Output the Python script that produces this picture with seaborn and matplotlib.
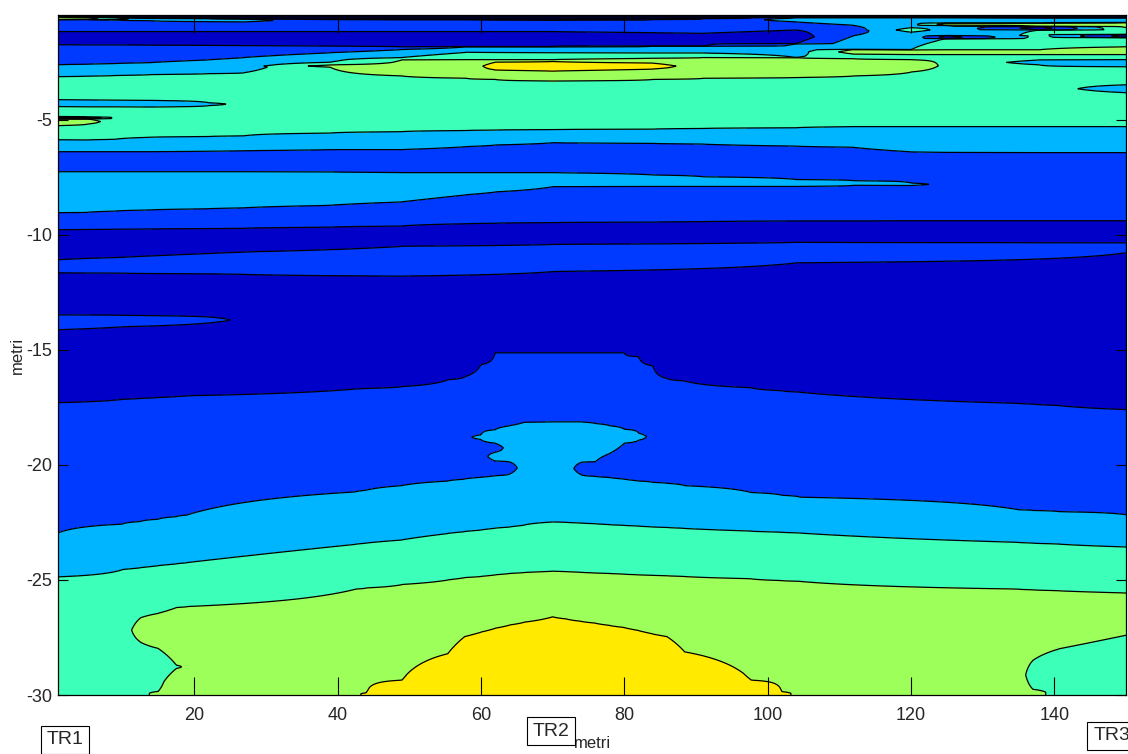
"""Filled contour section between the traverses TR1, TR2 and TR3."""

import matplotlib.pyplot as plt
import matplotlib.transforms as mtransforms
import numpy as np
import seaborn as sns

# Level codes: 0 black top, 1 navy, 2 blue, 3 light blue, 4 aquamarine,
# 5 yellow-green, 6 yellow.  Every column lists (level, bottom depth in m)
# from the top of its section downwards.

# shallow section, -0.45 m to -10 m
shallow_top = -0.45
shallow_x = [1, 5, 9, 14, 22, 27, 39, 49, 58, 62, 70, 84, 91, 104, 112,
             120, 125, 138, 150]
shallow_bands = [
    [(0, -0.53), (5, -0.65), (2, -1.17), (1, -1.74), (2, -2.61), (3, -3.13),
     (4, -4.13), (3, -4.43), (4, -4.87), (1, -4.96), (5, -5.26), (4, -5.87),
     (3, -6.39), (2, -7.26), (3, -9.04), (2, -9.78), (1, -10)],
    [(0, -0.53), (5, -0.64), (2, -1.17), (1, -1.75), (2, -2.59), (3, -3.11),
     (4, -4.14), (3, -4.44), (4, -4.89), (1, -4.96), (5, -5.2), (4, -5.88),
     (3, -6.39), (2, -7.26), (3, -9.03), (2, -9.77), (1, -10)],
    [(0, -0.56), (4, -0.66), (2, -1.17), (1, -1.75), (2, -2.56), (3, -3.08),
     (4, -4.15), (3, -4.44), (4, -5.85), (3, -6.39), (2, -7.26), (3, -8.97),
     (2, -9.76), (1, -10)],
    [(0, -0.59), (3, -0.7), (2, -1.17), (1, -1.76), (2, -2.52), (3, -3.04),
     (4, -4.16), (3, -4.45), (4, -5.76), (3, -6.39), (2, -7.26), (3, -8.92),
     (2, -9.75), (1, -10)],
    [(0, -0.6), (3, -0.74), (2, -1.17), (1, -1.77), (2, -2.4), (3, -3.0),
     (4, -4.26), (3, -4.39), (4, -5.73), (3, -6.37), (2, -7.26), (3, -8.87),
     (2, -9.73), (1, -10)],
    [(0, -0.62), (3, -0.75), (2, -1.17), (1, -1.78), (2, -2.3), (3, -2.96),
     (4, -5.7), (3, -6.35), (2, -7.26), (3, -8.83), (2, -9.72), (1, -10)],
    [(0, -0.64), (2, -1.17), (1, -1.8), (2, -2.09), (3, -2.5), (4, -2.62),
     (5, -2.72), (4, -5.58), (3, -6.3), (2, -7.27), (3, -8.72), (2, -9.67),
     (1, -10)],
    [(0, -0.65), (2, -1.17), (1, -1.83), (2, -1.95), (3, -2.3), (4, -2.4),
     (5, -3.1), (4, -5.52), (3, -6.3), (2, -7.3), (3, -8.57), (2, -9.62),
     (1, -10)],
    [(0, -0.65), (2, -1.17), (1, -1.83), (3, -2.07), (4, -2.39), (5, -3.2),
     (4, -5.47), (3, -6.17), (2, -7.3), (3, -8.26), (2, -9.52), (1, -10)],
    [(0, -0.66), (2, -1.17), (1, -1.83), (3, -2.08), (4, -2.39), (5, -2.5),
     (6, -2.84), (5, -3.25), (4, -5.45), (3, -6.1), (2, -7.3), (3, -8.14),
     (2, -9.5), (1, -10)],
    [(0, -0.67), (2, -1.17), (1, -1.83), (3, -2.09), (4, -2.39), (5, -2.47),
     (6, -2.89), (5, -3.32), (4, -5.43), (3, -6.0), (2, -7.3), (3, -7.91),
     (2, -9.47), (1, -10)],
    [(0, -0.64), (2, -1.22), (1, -1.8), (3, -2.1), (4, -2.33), (5, -2.54),
     (6, -2.8), (5, -3.25), (4, -5.41), (3, -6.03), (2, -7.4), (3, -7.9),
     (2, -9.45), (1, -10)],
    [(0, -0.6), (2, -1.25), (1, -1.8), (3, -2.1), (4, -2.3), (5, -3.2),
     (4, -5.38), (3, -6.06), (2, -7.48), (3, -7.9), (2, -9.43), (1, -10)],
    [(0, -0.56), (3, -0.75), (2, -1.1), (1, -1.7), (3, -2.3), (5, -3.17),
     (4, -5.35), (3, -6.15), (2, -7.6), (3, -7.9), (2, -9.4), (1, -10)],
    [(0, -0.56), (3, -0.9), (2, -1.35), (3, -1.95), (5, -2.15), (4, -2.35),
     (5, -3.1), (4, -5.3), (3, -6.2), (2, -7.65), (3, -7.85), (2, -9.4),
     (1, -10)],
    [(0, -0.56), (3, -1.0), (4, -1.2), (3, -1.96), (5, -2.17), (4, -2.39),
     (5, -2.93), (4, -5.3), (3, -6.4), (2, -7.75), (3, -7.86), (2, -9.39),
     (1, -10)],
    [(0, -0.56), (3, -0.8), (5, -0.9), (3, -1.35), (1, -1.48), (4, -1.96),
     (5, -2.17), (4, -5.3), (3, -6.42), (2, -9.39), (1, -10)],
    [(0, -0.57), (3, -0.8), (5, -0.95), (1, -1.1), (4, -1.96), (5, -2.17),
     (4, -2.4), (3, -2.62), (4, -5.3), (3, -6.43), (2, -9.39), (1, -10)],
    [(0, -0.57), (3, -0.78), (5, -1.0), (4, -1.3), (1, -1.43), (4, -1.83),
     (5, -2.17), (4, -2.39), (3, -2.7), (4, -3.48), (3, -3.83), (4, -5.3),
     (3, -6.43), (2, -9.39), (1, -10)],
]

# middle section, -10 m to -14.9 m
mid_top = -10.0
mid_x = [1, 10, 23, 27, 49, 70, 104, 150]
mid_bands = [
    [(1, -11.09), (2, -11.65), (1, -13.48), (2, -14.13), (1, -14.9)],
    [(1, -10.98), (2, -11.67), (1, -13.5), (2, -14.0), (1, -14.9)],
    [(1, -10.8), (2, -11.7), (1, -13.6), (2, -13.8), (1, -14.9)],
    [(1, -10.75), (2, -11.72), (1, -14.9)],
    [(1, -10.5), (2, -11.8), (1, -14.9)],
    [(1, -10.42), (2, -11.6), (1, -14.9)],
    [(1, -10.33), (2, -11.22), (1, -14.9)],
    [(1, -10.35), (2, -10.78), (1, -14.9)],
]

# deep section, -14.9 m to -30 m
deep_top = -14.9
deep_x = [1, 10, 12.5, 15, 17.5, 19, 42.5, 44, 49, 55.4, 57.7, 60, 62, 64,
          66, 70, 72, 74, 76, 78, 80, 82, 84, 86, 88.4, 97.7, 102, 104.5,
          135, 137, 140.6, 150]
deep_bands = [
    [(1, -17.3), (2, -22.96), (3, -24.87), (4, -30)],
    [(1, -17.15), (2, -22.57), (3, -24.55), (4, -30)],
    [(1, -17.11), (2, -22.46), (3, -24.47), (4, -26.65), (5, -27.7),
     (4, -30)],
    [(1, -17.07), (2, -22.36), (3, -24.38), (4, -26.45), (5, -27.98),
     (4, -29.84), (5, -30)],
    [(1, -17.03), (2, -22.25), (3, -24.3), (4, -26.2), (5, -28.7),
     (4, -28.85), (5, -30)],
    [(1, -17.0), (2, -22.18), (3, -24.25), (4, -26.16), (5, -30)],
    [(1, -16.7), (2, -21.17), (3, -23.45), (4, -25.4), (5, -30)],
    [(1, -16.68), (2, -21.1), (3, -23.4), (4, -25.35), (5, -29.9), (6, -30)],
    [(1, -16.6), (2, -20.9), (3, -23.26), (4, -25.2), (5, -29.35), (6, -30)],
    [(1, -16.3), (2, -20.7), (3, -22.98), (4, -25.0), (5, -28.2), (6, -30)],
    [(1, -16.18), (2, -20.62), (3, -22.9), (4, -24.9), (5, -27.47),
     (6, -30)],
    [(1, -15.65), (2, -18.69), (3, -18.9), (2, -20.54), (3, -22.83),
     (4, -24.85), (5, -27.27), (6, -30)],
    [(1, -15.13), (2, -18.47), (3, -19.06), (2, -19.45), (3, -19.83),
     (2, -20.47), (3, -22.75), (4, -24.78), (5, -27.1), (6, -30)],
    [(1, -15.13), (2, -18.3), (3, -19.87), (2, -20.4), (3, -22.7),
     (4, -24.72), (5, -26.96), (6, -30)],
    [(1, -15.13), (2, -18.15), (3, -22.62), (4, -24.68), (5, -26.84),
     (6, -30)],
    [(1, -15.13), (2, -18.13), (3, -22.48), (4, -24.62), (5, -26.6),
     (6, -30)],
    [(1, -15.13), (2, -18.13), (3, -22.5), (4, -24.64), (5, -26.7),
     (6, -30)],
    [(1, -15.13), (2, -18.13), (3, -19.89), (2, -20.43), (3, -22.53),
     (4, -24.67), (5, -26.8), (6, -30)],
    [(1, -15.13), (2, -18.2), (3, -19.86), (2, -20.5), (3, -22.56),
     (4, -24.7), (5, -26.88), (6, -30)],
    [(1, -15.13), (2, -18.3), (3, -19.5), (2, -20.55), (3, -22.6),
     (4, -24.72), (5, -26.98), (6, -30)],
    [(1, -15.13), (2, -18.45), (3, -19.06), (2, -20.62), (3, -22.63),
     (4, -24.75), (5, -27.07), (6, -30)],
    [(1, -15.3), (2, -18.62), (3, -18.93), (2, -20.7), (3, -22.66),
     (4, -24.78), (5, -27.2), (6, -30)],
    [(1, -15.7), (2, -20.76), (3, -22.7), (4, -24.8), (5, -27.35), (6, -30)],
    [(1, -16.25), (2, -20.8), (3, -22.72), (4, -24.82), (5, -27.47),
     (6, -30)],
    [(1, -16.35), (2, -20.9), (3, -22.76), (4, -24.85), (5, -28.12),
     (6, -30)],
    [(1, -16.65), (2, -21.2), (3, -22.88), (4, -24.95), (5, -29.35),
     (6, -30)],
    [(1, -16.78), (2, -21.32), (3, -22.93), (4, -25.03), (5, -29.85),
     (6, -30)],
    [(1, -16.84), (2, -21.4), (3, -22.96), (4, -25.06), (5, -30)],
    [(1, -17.33), (2, -21.95), (3, -23.37), (4, -25.4), (5, -30)],
    [(1, -17.36), (2, -21.98), (3, -23.4), (4, -25.43), (5, -28.5),
     (4, -29.75), (5, -30)],
    [(1, -17.42), (2, -22.03), (3, -23.44), (4, -25.47), (5, -28.0),
     (4, -30)],
    [(1, -17.6), (2, -22.17), (3, -23.57), (4, -25.57), (5, -27.4),
     (4, -30)],
]

x_ticks = [20, 40, 60, 80, 100, 120, 140]
y_ticks = [-30, -25, -20, -15, -10, -5]
traverse_names = ['TR1', 'TR2', 'TR3']
traverse_x = [2, 69.8, 148]


def column_profile(bands, top, depths, eps=0.004):
    """Turns one column of (level, bottom) pairs into level values.

    Args:
        bands: layers from the top down.
        top: depth of the top of the section.
        depths: depths at which the values are wanted.

    Returns:
        np.ndarray: level value at every depth.
    """
    z = [top]
    v = [bands[0][0]]
    upper = top
    for i, (level, bottom) in enumerate(bands):
        z.append((upper + bottom) / 2)
        v.append(level)
        if i + 1 < len(bands):
            nxt = bands[i + 1][0]
            step = 0.5 if nxt > level else -0.5
            z += [bottom + eps, bottom - eps]
            v += [level + step, nxt - step]
        upper = bottom
    z.append(bands[-1][1])
    v.append(bands[-1][0])
    return np.interp(-depths, -np.asarray(z), v)


def section_grid(bands_list, top, step=0.01):
    """Builds the value grid of one section."""
    bottom = bands_list[0][-1][1]
    n = int(round((top - bottom) / step)) + 1
    depths = np.linspace(bottom, top, n)
    field = np.column_stack(
        [column_profile(b, top, depths) for b in bands_list])
    return depths, field


def plot_section() -> None:
    """Draws the contour section and saves it as out.png."""
    sns.set_style('ticks')
    plt.rcParams['font.family'] = ['Liberation Sans', 'DejaVu Sans']
    plt.rcParams['axes.edgecolor'] = 'black'
    plt.rcParams['axes.unicode_minus'] = False

    levels = np.arange(-0.5, 7, 1.0)
    colors = ['#000020'] + [plt.cm.jet(0.0625 + 0.12 * k) for k in range(6)]

    fig = plt.figure(figsize=(11.28, 7.54), dpi=100)
    ax = fig.add_axes([58 / 1128, 1 - 695 / 754, 1068 / 1128, 680 / 754])
    ax.set_facecolor(colors[1])
    ax.set_axisbelow(False)

    sections = [
        (shallow_x, shallow_bands, shallow_top),
        (mid_x, mid_bands, mid_top),
        (deep_x, deep_bands, deep_top),
    ]
    for xs, bands_list, top in sections:
        depths, field = section_grid(bands_list, top)
        ax.contourf(xs, depths, field, levels=levels, colors=colors)
        ax.contour(xs, depths, field, levels=levels[1:-1], colors='black',
                   linewidths=0.9)

    ax.set_xlim(1, 150)
    ax.set_ylim(-30, -0.45)
    ax.set_xticks(x_ticks)
    ax.set_yticks(y_ticks)
    ax.tick_params(axis='x', direction='in', length=13, width=0.8,
                   top=True, pad=9, labelsize=13, color='black')
    ax.tick_params(axis='y', direction='in', length=7, width=0.8,
                   right=True, pad=4, labelsize=13, color='black')
    for spine in ax.spines.values():
        spine.set_linewidth(0.9)
        spine.set_color('black')
        spine.set_zorder(5)

    ax.set_xlabel('metri', fontsize=12)
    ax.xaxis.set_label_coords(0.5, -(736 - 695) / 680)
    ax.set_ylabel('metri', fontsize=12)
    ax.yaxis.set_label_coords(-(58 - 25) / 1068, 0.5)

    trans = mtransforms.blended_transform_factory(ax.transData,
                                                  fig.transFigure)
    label_y = [1 - 740 / 754, 1 - 731 / 754, 1 - 736 / 754]
    for name, x, y in zip(traverse_names, traverse_x, label_y):
        ax.text(x, y, name, transform=trans, ha='center', va='center',
                fontsize=14, clip_on=False,
                bbox=dict(boxstyle='square,pad=0.3', fc='white', ec='black',
                          lw=0.8))

    fig.savefig('out.png', dpi=100)
    return


plot_section()
